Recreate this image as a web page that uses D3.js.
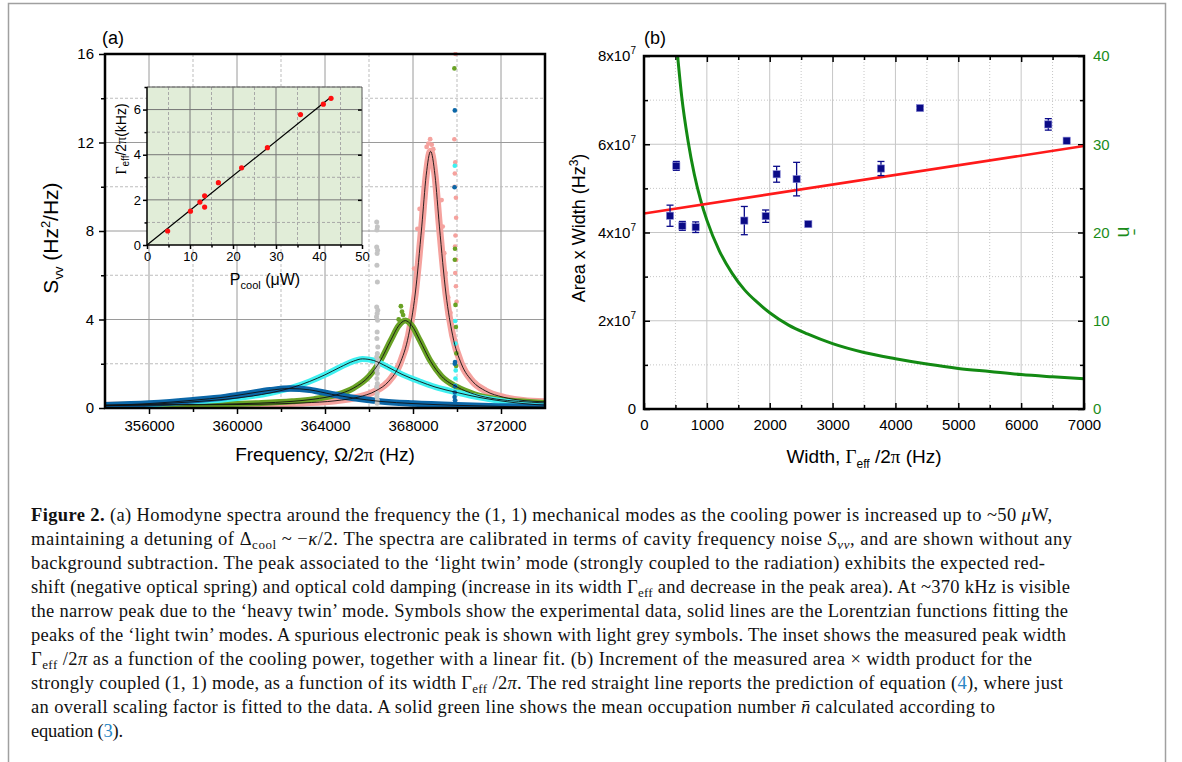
<!DOCTYPE html>
<html>
<head>
<meta charset="utf-8">
<script src="https://cdn.jsdelivr.net/npm/d3@7"></script>
<style>
body { margin: 0; background: #fff; }
svg { display: block; font-family: "Liberation Sans", Arial, sans-serif; }
</style>
</head>
<body>
<svg id="fig" width="1182" height="762"></svg>
<script>
// ---- (a) spectra: [frequency (Hz), S_vv (Hz^2/Hz)]
var pinkSpec = [[354000,0.12],[358000,0.14],[361000,0.17],[363000,0.23],[364500,0.33],[365500,0.49],[366300,0.77],[366900,1.21],[367400,1.99],[367800,3.29],[368100,5.15],[368400,8.22],[368600,10.52],[368800,11.6],[369000,10.52],[369200,8.22],[369500,5.15],[369800,3.29],[370200,1.99],[370700,1.21],[371300,0.77],[372100,0.49],[373000,0.34],[374000,0.28]];
var greenSpec = [[354000,0.13],[357000,0.15],[359000,0.17],[361000,0.22],[362500,0.30],[363500,0.40],[364500,0.59],[365300,0.90],[366000,1.43],[366500,2.11],[367000,3.08],[367350,3.72],[367650,3.95],[367950,3.72],[368300,3.08],[368800,2.11],[369300,1.43],[370000,0.95],[370800,0.62],[371800,0.40],[372800,0.30],[374000,0.23]];
var cyanSpec = [[354000,0.10],[356000,0.17],[358000,0.28],[360000,0.45],[361500,0.68],[362500,0.92],[363300,1.20],[364000,1.50],[364700,1.85],[365300,2.12],[365700,2.22],[366200,2.15],[366800,1.88],[367500,1.52],[368300,1.20],[369000,0.95],[370000,0.70],[371000,0.48],[372000,0.32],[373000,0.20],[374000,0.13]];
var blueSpec = [[354000,0.12],[356000,0.20],[358000,0.35],[359500,0.50],[360500,0.65],[361500,0.80],[362400,0.88],[363300,0.82],[364300,0.62],[365300,0.45],[366500,0.30],[368000,0.20],[370000,0.12],[372000,0.07],[374000,0.04]];

// scattered symbols off the bands
var pinkScatter = [[368620,11.8],[368700,11.95],[368780,12.15],[368850,11.9],[368920,11.7],[368300,9.0],[368200,8.1],[368050,6.3],[369300,9.4],[369350,8.2],[369420,7.0],[369480,6.1],[369600,5.0],[369700,4.3]];
var greenScatter = [[367350,4.0],[367450,4.6],[367500,4.35],[367550,4.2]];
var greyPeak = [[366350,8.41],[366380,8.19],[366360,8.04],[366350,7.28],[366390,7.13],[366370,6.98],[366360,6.45],[366380,5.70],[366350,4.57],[366400,4.42],[366370,4.27],[366340,4.12],[366390,3.97],[366370,3.44],[366360,3.14],[366400,2.76],[366380,2.46],[366350,2.31],[366410,2.16],[366370,2.01],[366400,1.86],[366350,1.71],[366380,1.56],[366360,1.33],[366380,1.11],[366350,0.96],[366370,0.66],[366360,0.51],[366380,0.36],[366370,0.21]];
// heavy-twin column near 370 kHz: [frequency, S, series]
var heavyTwin = [[369930,16.0,"pink"],[369880,12.15,"pink"],[369920,11.1,"pink"],[369900,10.6,"pink"],[369890,10.0,"pink"],[369950,9.5,"pink"],[369960,8.6,"pink"],[369930,7.8,"pink"],[369910,7.3,"pink"],[369960,6.7,"pink"],[369920,6.1,"pink"],[369950,5.5,"pink"],[369980,4.8,"pink"],
  [369880,15.35,"green"],[369910,7.2,"green"],[369900,6.7,"green"],[369930,4.66,"green"],[369950,3.66,"green"],[369970,2.47,"green"],[369960,1.9,"green"],
  [369900,10.95,"cyan"],[369920,3.93,"cyan"],[369930,2.91,"cyan"],[369940,1.7,"cyan"],[369930,1.33,"cyan"],[369920,1.0,"cyan"],
  [369900,13.45,"blue"],[369890,9.98,"blue"],[369910,2.08,"blue"],[369900,2.0,"blue"],[369910,0.98,"blue"],[369900,0.7,"blue"],[369890,0.5,"blue"],[369910,0.35,"blue"],[369900,0.2,"blue"]];

// ---- inset: cooling power (uW) vs width (kHz)
var pCool = [4.8,10.1,12.3,13.4,13.4,16.6,22.0,28.0,35.7,41.0,42.8];
var gammaEff = [0.62,1.50,1.90,2.18,1.68,2.76,3.42,4.31,5.78,6.24,6.50];
var insetFit = [[0,0],[42.8,6.56]];

// ---- (b) area x width (x1e7 Hz^3) vs width (Hz)
var widthHz = [414,514,610,822,1596,1936,2110,2428,2614,3770,4391,6432,6724];
var areaWidth = [4.38,5.51,4.15,4.12,4.27,4.37,5.32,5.21,4.19,5.45,6.82,6.45,6.08];
var areaErr = [0.24,0.10,0.10,0.12,0.32,0.14,0.18,0.38,0.04,0.16,0.04,0.13,0.04];
var predLine = [[0,4.43],[7000,5.96]];
var nbarCurve = [[535,40],[600,35.4],[700,30.4],[800,26.6],[900,23.7],[1000,21.4],[1200,17.9],[1400,15.4],[1600,13.5],[1800,12.1],[2000,10.9],[2300,9.5],[2600,8.5],[3000,7.4],[3500,6.4],[4000,5.7],[4500,5.1],[5000,4.6],[5500,4.25],[6000,3.9],[6500,3.65],[7000,3.43]];

var colors = {pink:"#f5a29e", green:"#69a225", cyan:"#3ef0f0", blue:"#0b67a8", grey:"#c4c4c4"};

var caption = [
  [["Figure 2.","b"],[" (a) Homodyne spectra around the frequency the (1, 1) mechanical modes as the cooling power is increased up to ~50 ",""],["\u03bc","i"],["W,",""]],
  [["maintaining a detuning of \u0394",""],["cool","sub"],[" ~ \u2212",""],["\u03ba","i"],["/2. The spectra are calibrated in terms of cavity frequency noise ",""],["S","i"],["\u03bd\u03bd","subi"],[", and are shown without any",""]],
  [["background subtraction. The peak associated to the \u2018light twin\u2019 mode (strongly coupled to the radiation) exhibits the expected red-",""]],
  [["shift (negative optical spring) and optical cold damping (increase in its width \u0393",""],["eff","sub"],[" and decrease in the peak area). At ~370 kHz is visible",""]],
  [["the narrow peak due to the \u2018heavy twin\u2019 mode. Symbols show the experimental data, solid lines are the Lorentzian functions fitting the",""]],
  [["peaks of the \u2018light twin\u2019 modes. A spurious electronic peak is shown with light grey symbols. The inset shows the measured peak width",""]],
  [["\u0393",""],["eff","sub"],[" /2",""],["\u03c0","i"],[" as a function of the cooling power, together with a linear fit. (b) Increment of the measured area \u00d7 width product for the",""]],
  [["strongly coupled (1, 1) mode, as a function of its width \u0393",""],["eff","sub"],[" /2",""],["\u03c0","i"],[". The red straight line reports the prediction of equation (",""],["4","link"],["), where just",""]],
  [["an overall scaling factor is fitted to the data. A solid green line shows the mean occupation number ",""],["n\u0304","i"],[" calculated according to",""]],
  [["equation (",""],["3","link"],[").",""]]
];
var captionEnds = [1052,1072,1045,1070,1068,1066,1032,1063,995,123];

var svg = d3.select("#fig");
var SANS = "Liberation Sans, Arial, sans-serif";

// outer frame
svg.append("rect").attr("x",8.5).attr("y",3.5).attr("width",1157).attr("height",820)
  .attr("fill","none").attr("stroke","#a0a0a0").attr("stroke-width",1.5);

function vgrid(vals, sx, y0, y1, color, dash) {
  svg.append("g").selectAll("line").data(vals).join("line")
    .attr("x1", d => sx(d)).attr("x2", d => sx(d)).attr("y1", y0).attr("y2", y1)
    .attr("stroke", color).attr("stroke-width", 1).attr("stroke-dasharray", dash);
}
function hgrid(vals, sy, x0, x1, color, dash) {
  svg.append("g").selectAll("line").data(vals).join("line")
    .attr("y1", d => sy(d)).attr("y2", d => sy(d)).attr("x1", x0).attr("x2", x1)
    .attr("stroke", color).attr("stroke-width", 1).attr("stroke-dasharray", dash);
}
function axis(gen, tx, ty, size, color) {
  var g = svg.append("g").attr("transform", "translate(" + tx + "," + ty + ")").call(gen);
  g.attr("font-size", null).attr("font-family", null);
  g.select(".domain").remove();
  g.selectAll(".tick line").attr("stroke", "#000").attr("stroke-width", 1.5);
  g.selectAll(".tick text").attr("font-size", size).attr("font-family", SANS).attr("fill", color || "#000");
  return g;
}
var intFmt = d3.format("d");

// ================= panel (a)
var xA = d3.scaleLinear().domain([354000, 374000]).range([105, 545]);
var yA = d3.scaleLinear().domain([0, 16]).range([408, 54]);

vgrid([356000,360000,364000,368000,372000], xA, 54, 408, "#9a9a9a", null);
vgrid([358000,362000,366000,370000], xA, 54, 408, "#bdbdbd", "3,2");
hgrid([4,8,12], yA, 105, 545, "#9a9a9a", null);
hgrid([2,6,10,14], yA, 105, 545, "#bdbdbd", "3,2");

axis(d3.axisBottom(xA).tickValues([356000,360000,364000,368000,372000]).tickSize(6).tickPadding(6).tickFormat(intFmt), 0, 408, 15);
axis(d3.axisBottom(xA).tickValues([358000,362000,366000,370000]).tickSize(4).tickFormat(""), 0, 408, 15);
axis(d3.axisLeft(yA).tickValues([0,4,8,12,16]).tickSize(6).tickPadding(5).tickFormat(intFmt), 105, 0, 15);
axis(d3.axisLeft(yA).tickValues([2,6,10,14]).tickSize(4).tickFormat(""), 105, 0, 15);

svg.append("clipPath").attr("id", "clipA").append("rect")
  .attr("x", 105).attr("y", 52).attr("width", 440).attr("height", 356);
var plotA = svg.append("g").attr("clip-path", "url(#clipA)");

var lineA = d3.line().x(d => xA(d[0])).y(d => yA(d[1])).curve(d3.curveMonotoneX);
var bands = [[pinkSpec, "pink", 7], [greenSpec, "green", 6], [cyanSpec, "cyan", 6], [blueSpec, "blue", 6.5]];
bands.forEach(function (b) {
  plotA.append("path").datum(b[0]).attr("d", lineA).attr("fill", "none")
    .attr("stroke", colors[b[1]]).attr("stroke-width", b[2]).attr("stroke-linecap", "round").attr("stroke-linejoin", "round");
});
plotA.append("g").selectAll("circle").data(pinkScatter).join("circle")
  .attr("cx", d => xA(d[0])).attr("cy", d => yA(d[1])).attr("r", 2.4).attr("fill", colors.pink);
plotA.append("g").selectAll("circle").data(greenScatter).join("circle")
  .attr("cx", d => xA(d[0])).attr("cy", d => yA(d[1])).attr("r", 2.4).attr("fill", colors.green);
plotA.append("g").selectAll("circle").data(greyPeak).join("circle")
  .attr("cx", d => xA(d[0])).attr("cy", d => yA(d[1])).attr("r", 2.5).attr("fill", colors.grey);
plotA.append("g").selectAll("circle").data(heavyTwin).join("circle")
  .attr("cx", d => xA(d[0])).attr("cy", d => yA(d[1])).attr("r", 2.3).attr("fill", d => colors[d[2]]);
bands.forEach(function (b) {
  plotA.append("path").datum(b[0]).attr("d", lineA).attr("fill", "none")
    .attr("stroke", "#111").attr("stroke-width", 0.9);
});

svg.append("rect").attr("x", 105).attr("y", 54).attr("width", 440).attr("height", 354)
  .attr("fill", "none").attr("stroke", "#000").attr("stroke-width", 2.5);

svg.append("text").attr("x", 102).attr("y", 44).attr("font-size", 18).text("(a)");
var ylA = svg.append("text").attr("transform", "translate(58,238) rotate(-90)")
  .attr("text-anchor", "middle").attr("font-size", 21);
ylA.append("tspan").text("S");
ylA.append("tspan").attr("font-size", 13).attr("dy", 5).text("vv");
ylA.append("tspan").attr("dy", -5).text(" (Hz");
ylA.append("tspan").attr("font-size", 13).attr("dy", -8).text("2");
ylA.append("tspan").attr("dy", 8).text("/Hz)");
var xlA = svg.append("text").attr("x", 325).attr("y", 461).attr("text-anchor", "middle").attr("font-size", 19);
xlA.append("tspan").text("Frequency, \u03a9/2");
xlA.append("tspan").attr("font-family", "Liberation Serif, serif").text("\u03c0");
xlA.append("tspan").text(" (Hz)");

// ================= inset
var xI = d3.scaleLinear().domain([0, 50]).range([147, 362]);
var yI = d3.scaleLinear().domain([0, 7]).range([245, 87]);
svg.append("rect").attr("x", 147).attr("y", 87).attr("width", 215).attr("height", 158).attr("fill", "#e1edd8");
vgrid([10,20,30,40], xI, 87, 245, "#767676", null);
vgrid([5,15,25,35,45], xI, 87, 245, "#a8a8a8", "3,2");
hgrid([2,4,6], yI, 147, 362, "#767676", null);
hgrid([1,3,5,7], yI, 147, 362, "#a8a8a8", "3,2");
axis(d3.axisBottom(xI).tickValues([0,10,20,30,40,50]).tickSize(4).tickPadding(3).tickFormat(intFmt), 0, 245, 13);
axis(d3.axisBottom(xI).tickValues([5,15,25,35,45]).tickSize(2.5).tickFormat(""), 0, 245, 13);
axis(d3.axisLeft(yI).tickValues([0,2,4,6]).tickSize(4).tickPadding(2).tickFormat(intFmt), 147, 0, 13);
axis(d3.axisLeft(yI).tickValues([1,3,5,7]).tickSize(2.5).tickFormat(""), 147, 0, 13);
axis(d3.axisRight(yI).tickValues([2,4,6]).tickSizeInner(-4).tickSizeOuter(0).tickFormat(""), 362, 0, 13);
svg.append("line").attr("x1", 147).attr("x2", 362).attr("y1", 87).attr("y2", 87).attr("stroke", "#555").attr("stroke-width", 1);
svg.append("line").attr("x1", 362).attr("x2", 362).attr("y1", 87).attr("y2", 245).attr("stroke", "#555").attr("stroke-width", 1);
svg.append("line").attr("x1", 147).attr("x2", 362).attr("y1", 245).attr("y2", 245).attr("stroke", "#000").attr("stroke-width", 1.5);
svg.append("line").attr("x1", 147).attr("x2", 147).attr("y1", 87).attr("y2", 245).attr("stroke", "#000").attr("stroke-width", 1.5);
svg.append("path").datum(insetFit).attr("d", d3.line().x(d => xI(d[0])).y(d => yI(d[1])))
  .attr("stroke", "#000").attr("stroke-width", 1.2).attr("fill", "none");
svg.append("g").selectAll("circle").data(d3.zip(pCool, gammaEff)).join("circle")
  .attr("cx", d => xI(d[0])).attr("cy", d => yI(d[1])).attr("r", 2.6).attr("fill", "#ff1010");
var ylI = svg.append("text").attr("transform", "translate(126,139) rotate(-90)")
  .attr("text-anchor", "middle").attr("font-size", 14);
ylI.append("tspan").attr("font-family", "Liberation Serif, serif").text("\u0393");
ylI.append("tspan").attr("font-size", 10).attr("dy", 3).text("eff");
ylI.append("tspan").attr("dy", -3).text("/2");
ylI.append("tspan").attr("font-family", "Liberation Serif, serif").text("\u03c0");
ylI.append("tspan").text("(kHz)");
var xlI = svg.append("text").attr("x", 265).attr("y", 285).attr("text-anchor", "middle").attr("font-size", 16);
xlI.append("tspan").text("P");
xlI.append("tspan").attr("font-size", 11).attr("dy", 4).text("cool");
xlI.append("tspan").attr("dy", -4).text(" (\u03bcW)");

// ================= panel (b)
var xB = d3.scaleLinear().domain([0, 7000]).range([644, 1084]);
var yB = d3.scaleLinear().domain([0, 8]).range([409, 56]);
var yN = d3.scaleLinear().domain([0, 40]).range([409, 56]);
vgrid([1000,2000,3000,4000,5000,6000], xB, 56, 409, "#c6c6c6", null);
vgrid([500,1500,2500,3500,4500,5500,6500], xB, 56, 409, "#c6c6c6", "1,2");
hgrid([2,4,6], yB, 644, 1084, "#c6c6c6", null);
hgrid([1,3,5,7], yB, 644, 1084, "#c6c6c6", "1,2");

axis(d3.axisBottom(xB).tickValues(d3.range(0, 7001, 1000)).tickSizeInner(-6).tickSizeOuter(0).tickPadding(10).tickFormat(intFmt), 0, 409, 15);
axis(d3.axisBottom(xB).tickValues(d3.range(500, 7000, 1000)).tickSizeInner(-4).tickSizeOuter(0).tickFormat(""), 0, 409, 15);
axis(d3.axisTop(xB).tickValues(d3.range(1000, 7000, 1000)).tickSizeInner(-6).tickSizeOuter(0).tickFormat(""), 0, 56, 15);
axis(d3.axisTop(xB).tickValues(d3.range(500, 7000, 1000)).tickSizeInner(-4).tickSizeOuter(0).tickFormat(""), 0, 56, 15);
var yAxB = axis(d3.axisLeft(yB).tickValues([0,2,4,6,8]).tickSizeInner(-6).tickSizeOuter(0).tickPadding(8), 644, 0, 15);
yAxB.selectAll(".tick text").each(function (d) {
  var t = d3.select(this);
  t.text(null);
  if (d === 0) { t.text("0"); return; }
  t.append("tspan").text(d + "x10");
  t.append("tspan").attr("font-size", 10).attr("dy", -7).text("7");
});
axis(d3.axisLeft(yB).tickValues([1,3,5,7]).tickSizeInner(-4).tickSizeOuter(0).tickFormat(""), 644, 0, 15);
axis(d3.axisRight(yN).tickValues([0,10,20,30,40]).tickSizeInner(-6).tickSizeOuter(0).tickPadding(9).tickFormat(intFmt), 1084, 0, 15, "#1a8c1a");
axis(d3.axisRight(yN).tickValues([5,15,25,35]).tickSizeInner(-4).tickSizeOuter(0).tickFormat(""), 1084, 0, 15);

svg.append("clipPath").attr("id", "clipB").append("rect")
  .attr("x", 644).attr("y", 56).attr("width", 440).attr("height", 353);
var plotB = svg.append("g").attr("clip-path", "url(#clipB)");
plotB.append("path").datum(nbarCurve)
  .attr("d", d3.line().x(d => xB(d[0])).y(d => yN(d[1])).curve(d3.curveMonotoneX))
  .attr("fill", "none").attr("stroke", "#138a13").attr("stroke-width", 3);
plotB.append("path").datum(predLine)
  .attr("d", d3.line().x(d => xB(d[0])).y(d => yB(d[1])))
  .attr("fill", "none").attr("stroke", "#ff1a1a").attr("stroke-width", 2.6);

var pts = widthHz.map((w, i) => ({w: w, a: areaWidth[i], e: areaErr[i]}));
var eb = plotB.append("g").attr("stroke", "#0a0a8a").attr("stroke-width", 1.3);
eb.selectAll("line.v").data(pts).join("line").attr("class", "v")
  .attr("x1", d => xB(d.w)).attr("x2", d => xB(d.w)).attr("y1", d => yB(d.a - d.e)).attr("y2", d => yB(d.a + d.e));
eb.selectAll("line.t").data(pts).join("line").attr("class", "t")
  .attr("x1", d => xB(d.w) - 3.5).attr("x2", d => xB(d.w) + 3.5).attr("y1", d => yB(d.a + d.e)).attr("y2", d => yB(d.a + d.e));
eb.selectAll("line.b").data(pts).join("line").attr("class", "b")
  .attr("x1", d => xB(d.w) - 3.5).attr("x2", d => xB(d.w) + 3.5).attr("y1", d => yB(d.a - d.e)).attr("y2", d => yB(d.a - d.e));
plotB.append("g").selectAll("rect").data(pts).join("rect")
  .attr("x", d => xB(d.w) - 3.6).attr("y", d => yB(d.a) - 3.6).attr("width", 7.2).attr("height", 7.2)
  .attr("fill", "#0a0a86").attr("stroke", "#8a8ad8").attr("stroke-width", 0.6);

svg.append("rect").attr("x", 644).attr("y", 56).attr("width", 440).attr("height", 353)
  .attr("fill", "none").attr("stroke", "#000").attr("stroke-width", 2.5);

svg.append("text").attr("x", 644).attr("y", 44).attr("font-size", 18).text("(b)");
var ylB = svg.append("text").attr("transform", "translate(585,228) rotate(-90)")
  .attr("text-anchor", "middle").attr("font-size", 18);
ylB.append("tspan").text("Area x Width (Hz");
ylB.append("tspan").attr("font-size", 12).attr("dy", -7).text("3");
ylB.append("tspan").attr("dy", 7).text(")");
var xlB = svg.append("text").attr("x", 864).attr("y", 463).attr("text-anchor", "middle").attr("font-size", 19);
xlB.append("tspan").text("Width, ");
xlB.append("tspan").attr("font-family", "Liberation Serif, serif").text("\u0393");
xlB.append("tspan").attr("font-size", 12).attr("dy", 5).text("eff");
xlB.append("tspan").attr("dy", -5).text(" /2");
xlB.append("tspan").attr("font-family", "Liberation Serif, serif").text("\u03c0");
xlB.append("tspan").text(" (Hz)");
svg.append("text").attr("transform", "translate(1118,232) rotate(90)")
  .attr("text-anchor", "middle").attr("font-size", 20).attr("fill", "#1a8c1a").text("n\u0304");

// ================= caption
var cap = svg.append("g").attr("font-family", "Liberation Serif, Times New Roman, serif").attr("font-size", 18.5).attr("fill", "#111");
caption.forEach(function (line, i) {
  var t = cap.append("text").attr("x", 31).attr("y", 520.5 + 24 * i)
    .attr("textLength", captionEnds[i] - 31).attr("lengthAdjust", "spacing");
  var shifted = 0;
  line.forEach(function (seg) {
    var s = t.append("tspan").text(seg[0]);
    var st = seg[1];
    var want = (st === "sub" || st === "subi") ? 4 : 0;
    if (want !== shifted) { s.attr("dy", want - shifted); shifted = want; }
    if (st === "b") s.attr("font-weight", "bold");
    if (st === "i" || st === "subi") s.attr("font-style", "italic");
    if (st === "sub" || st === "subi") s.attr("font-size", 13);
    if (st === "link") s.attr("fill", "#2a86c4");
  });
});
</script>
</body>
</html>
